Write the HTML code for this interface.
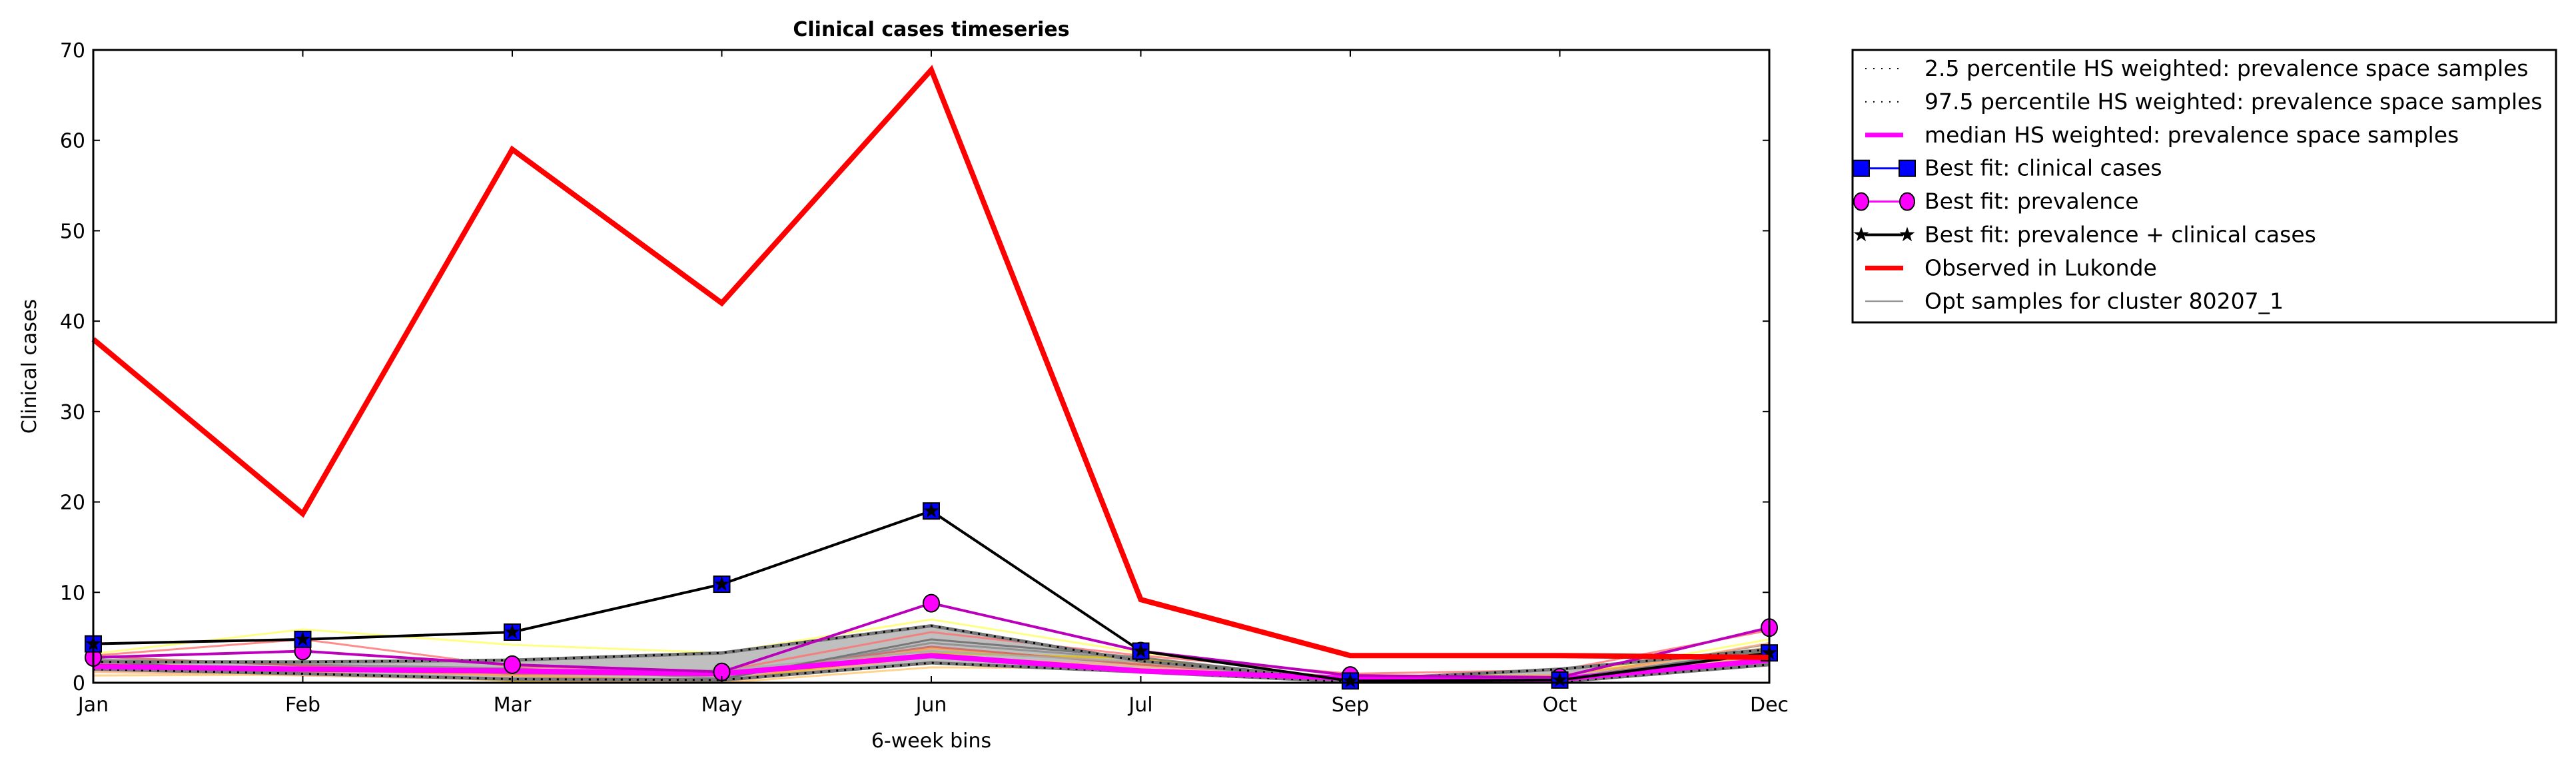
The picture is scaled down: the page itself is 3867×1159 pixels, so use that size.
<!DOCTYPE html>
<html><head><meta charset="utf-8">
<style>
html,body{margin:0;padding:0;background:#fff;}
svg{display:block;font-family:"DejaVu Sans","Liberation Sans",sans-serif;}
</style></head>
<body>
<svg id="chart" width="3867" height="1159" viewBox="0 0 3867 1159" xmlns="http://www.w3.org/2000/svg">
<rect x="0" y="0" width="3867" height="1159" fill="#fff"/>
<g id="plot"></g>
<text x="1398" y="54" text-anchor="middle" font-size="30" font-weight="bold">Clinical cases timeseries</text>
<text transform="translate(54,550) rotate(-90)" text-anchor="middle" font-size="30">Clinical cases</text>
<text x="1398" y="1122" text-anchor="middle" font-size="30">6-week bins</text>
<g id="legend"></g>
</svg>
<script>
const categories = ["Jan","Feb","Mar","May","Jun","Jul","Sep","Oct","Dec"];
const yTicks = [0,10,20,30,40,50,60,70];
const observed = [38,18.7,59,42,67.8,9.2,3,3,2.8];
const bestClinical = [4.3,4.8,5.6,10.9,19,3.5,0.2,0.3,3.3];
const bestPrevalence = [2.8,3.5,2.0,1.2,8.8,3.5,0.8,0.6,6.1];
const bestBoth = [4.3,4.8,5.6,10.9,19,3.5,0.2,0.3,3.3];
const p975 = [2.3,2.3,2.5,3.3,6.3,2.4,0.3,1.5,3.7];
const p25 = [1.5,1.0,0.4,0.3,2.2,1.2,0.1,0.1,2.0];
const median = [1.8,1.5,1.3,1.0,3.0,1.3,0.5,0.4,2.5];
const s1 = [3.2,5.9,4.2,3.3,7.0,3.3,0.9,0.7,4.8];
const s2 = [3.0,4.8,1.8,1.3,5.6,3.0,1.0,1.4,5.8];
const s3 = [2.6,2.0,1.6,0.5,4.4,2.6,0.4,0.3,4.3];
const s4 = [2.2,1.5,0.8,0.2,3.8,2.2,0.6,0.8,3.9];
const s5 = [1.5,1.2,0.2,0.1,3.3,2.7,0.1,0.0,3.4];
const s6 = [1.2,0.8,0.3,0.1,2.9,1.9,0.2,0.2,4.4];
const s7 = [0.8,0.9,0.5,0.0,1.7,1.6,0.3,0.1,3.0];
const s8 = [2.9,1.9,1.0,0.8,4.0,2.0,0.5,0.6,2.6];
const s9 = [1.9,1.6,1.2,1.4,3.5,2.3,0.0,0.5,3.2];
const s10 = [2.4,1.0,0.4,0.4,4.8,2.8,0.2,0.4,3.6];
const sampleColors = ["#ffff66","#ff7070","#888888","#ffa040","#e0c000","#ffb080","#ffc870","#d06060","#aaaaaa","#666666"];

const X0=140,X1=2656,Y0=1025,Y1=75;
function xs(i){return X0+(X1-X0)*i/(categories.length-1);}
function ys(v){return Y0-(Y0-Y1)*v/70;}
const NS="http://www.w3.org/2000/svg";
const plot=document.getElementById('plot');
function mk(tag,attrs,parent){const e=document.createElementNS(NS,tag);for(const k in attrs)e.setAttribute(k,attrs[k]);(parent||plot).appendChild(e);return e;}
function pts(arr){return arr.map((v,i)=>xs(i)+","+ys(v)).join(" ");}

const band=mk('polygon',{points:pts(p975)+" "+p25.map((v,i)=>[xs(i),ys(v)]).reverse().map(p=>p.join(",")).join(" "),fill:"#bfbfbf",stroke:"none"});


const samples=[s1,s2,s3,s4,s5,s6,s7,s8,s9,s10];
samples.forEach((s,k)=>{
  const l=mk('polyline',{points:pts(s),fill:"none",stroke:sampleColors[k],"stroke-width":3,opacity:0.8});
  
  
});
[p975,p25].forEach(a=>{
  const g=mk('polyline',{points:pts(a),fill:"none",stroke:"#777","stroke-width":5});
  
  
  const d=mk('polyline',{points:pts(a),fill:"none",stroke:"#000","stroke-width":3,"stroke-dasharray":"3 9"});
  
  
});
const med=mk('polyline',{points:pts(median),fill:"none",stroke:"#ff00ff","stroke-width":8});


const prevL=mk('polyline',{points:pts(bestPrevalence),fill:"none",stroke:"#bb00bb","stroke-width":4});


bestPrevalence.forEach((v,i)=>{
  const c=mk('ellipse',{cx:xs(i),cy:ys(v),rx:12,ry:13,fill:"#ff00ff",stroke:"#000","stroke-width":2});
  
  
});
const clinL=mk('polyline',{points:pts(bestClinical),fill:"none",stroke:"#000","stroke-width":4});


bestClinical.forEach((v,i)=>{
  const r=mk('rect',{x:xs(i)-12,y:ys(v)-12,width:24,height:24,fill:"#0000ff",stroke:"#000","stroke-width":2});
  
  
});
function star(cx,cy,r){let p=[];for(let k=0;k<10;k++){const a=-Math.PI/2+k*Math.PI/5;const rr=k%2?r*0.4:r;p.push((cx+rr*Math.cos(a))+","+(cy+rr*Math.sin(a)));}return p.join(" ");}
bestBoth.forEach((v,i)=>{
  const s=mk('polygon',{points:star(xs(i),ys(v),12),fill:"#000"});
  
  
});
const obs=mk('polyline',{points:pts(observed),fill:"none",stroke:"#ff0000","stroke-width":8,"stroke-linejoin":"miter"});



const frame=mk('rect',{x:X0,y:Y1,width:X1-X0,height:Y0-Y1,fill:"none",stroke:"#000","stroke-width":3});


yTicks.forEach(t=>{
  const y=ys(t);
  mk('line',{x1:X0,y1:y,x2:X0+10,y2:y,stroke:"#000","stroke-width":2});
  mk('line',{x1:X1,y1:y,x2:X1-10,y2:y,stroke:"#000","stroke-width":2});
  const tx=mk('text',{x:X0-12,y:y+11,"text-anchor":"end","font-size":30});
  tx.textContent=t;
  
  
});
categories.forEach((c,i)=>{
  const x=xs(i);
  mk('line',{x1:x,y1:Y0,x2:x,y2:Y0-10,stroke:"#000","stroke-width":2});
  mk('line',{x1:x,y1:Y1,x2:x,y2:Y1+10,stroke:"#000","stroke-width":2});
  const tx=mk('text',{x:x,y:1068,"text-anchor":"middle","font-size":30});
  tx.textContent=c;
  
  
});

const leg=document.getElementById('legend');
mk('rect',{x:2781,y:75,width:1056,height:409,fill:"#fff",stroke:"#000","stroke-width":3},leg);
const labels=["2.5 percentile HS weighted: prevalence space samples","97.5 percentile HS weighted: prevalence space samples","median HS weighted: prevalence space samples","Best fit: clinical cases","Best fit: prevalence","Best fit: prevalence + clinical cases","Observed in Lukonde","Opt samples for cluster 80207_1"];
labels.forEach((lab,k)=>{
  const y=103+k*49.9;
  const hx0=2800,hx1=2857;
  if(k<2){mk('line',{x1:hx0,y1:y,x2:hx1,y2:y,stroke:"#000","stroke-width":2,"stroke-dasharray":"2 10"},leg);}
  else if(k==2){mk('line',{x1:hx0,y1:y,x2:hx1,y2:y,stroke:"#ff00ff","stroke-width":7},leg);}
  else if(k==3){mk('line',{x1:hx0,y1:y,x2:hx1,y2:y,stroke:"#0000ff","stroke-width":3},leg);[hx0-6,hx1+6].forEach(x=>mk('rect',{x:x-12,y:y-12,width:24,height:24,fill:"#0000ff",stroke:"#000","stroke-width":2},leg));}
  else if(k==4){mk('line',{x1:hx0,y1:y,x2:hx1,y2:y,stroke:"#ff00ff","stroke-width":3},leg);[hx0-6,hx1+6].forEach(x=>mk('ellipse',{cx:x,cy:y,rx:11,ry:13,fill:"#ff00ff",stroke:"#000","stroke-width":2},leg));}
  else if(k==5){mk('line',{x1:hx0,y1:y,x2:hx1,y2:y,stroke:"#000","stroke-width":4},leg);[hx0-6,hx1+6].forEach(x=>mk('polygon',{points:star(x,y,12),fill:"#000"},leg));}
  else if(k==6){mk('line',{x1:hx0,y1:y,x2:hx1,y2:y,stroke:"#ff0000","stroke-width":7},leg);}
  else {mk('line',{x1:hx0,y1:y,x2:hx1,y2:y,stroke:"#888","stroke-width":2},leg);}
  const t=mk('text',{x:2889,y:y+11,"font-size":33},leg);
  t.textContent=lab;
  
  
});
</script>
</body></html>
